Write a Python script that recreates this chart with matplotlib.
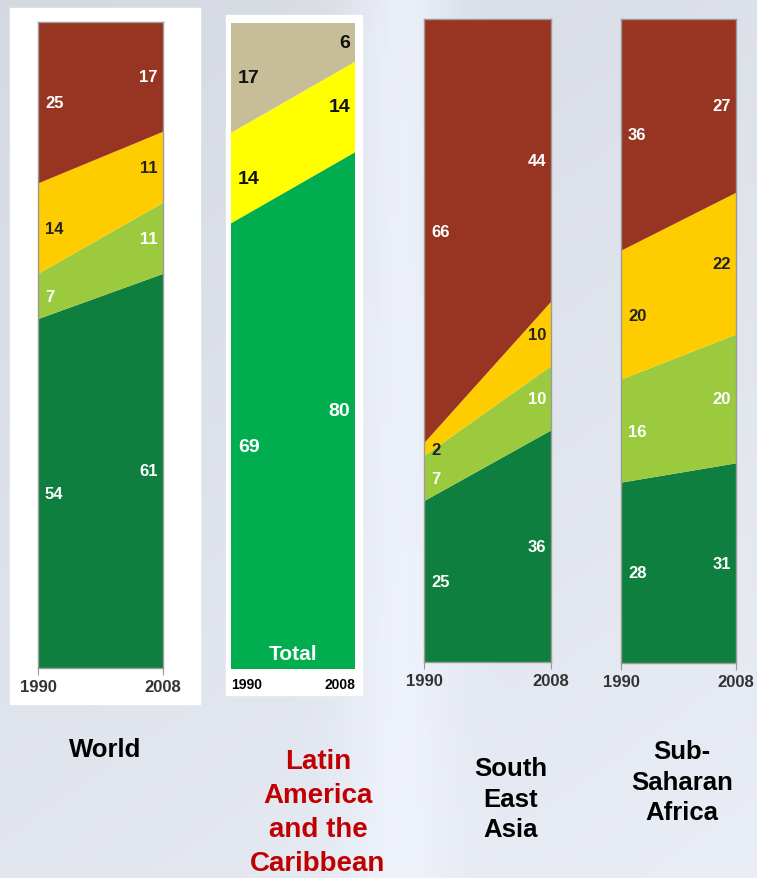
import matplotlib as mpl
import matplotlib.pyplot as plt
import numpy as np
from matplotlib.patches import Rectangle

W, H = 757, 879

years = [1990, 2008]

# world: dark green, light green, yellow, red
world_dark = [54, 61]
world_light = [7, 11]
world_yellow = [14, 11]
world_red = [25, 17]

# latin america and the caribbean: green, yellow, tan
latam_green = [69, 80]
latam_yellow = [14, 14]
latam_tan = [17, 6]

# south east asia
sea_dark = [25, 36]
sea_light = [7, 10]
sea_yellow = [2, 10]
sea_red = [66, 44]

# sub-saharan africa
ssa_dark = [28, 31]
ssa_light = [16, 20]
ssa_yellow = [20, 22]
ssa_red = [36, 27]

red = '#983522'
yellow = '#FFCC00'
light = '#9BCA3E'
dark = '#0E7F3F'

fig = plt.figure(figsize=(W / 100, H / 100), dpi=100)

# background
bg = fig.add_axes([0, 0, 1, 1])
xx, yy = np.meshgrid(np.linspace(0, 1, 200), np.linspace(0, 1, 200))
shade = 0.85 + 0.07 * np.exp(-((xx - 0.53) / 0.07) ** 2) * (1 - 0.5 * yy) + 0.05 * yy + 0.03 * xx
shade = np.clip(shade, 0, 0.95)
img = np.dstack([shade - 0.015, shade, shade + 0.035])
bg.imshow(np.clip(img, 0, 1), extent=[0, 1, 0, 1], aspect='auto', origin='upper')
bg.set_xlim(0, 1)
bg.set_ylim(0, 1)
bg.axis('off')


def px(x0, y0, x1, y1):
    return [x0 / W, 1 - y1 / H, (x1 - x0) / W, (y1 - y0) / H]


# white boxes behind first two panels
for x0, y0, x1, y1 in [(10, 9, 200, 705), (226, 16, 362, 696)]:
    bg.add_patch(Rectangle((x0 / W, 1 - y1 / H), (x1 - x0) / W, (y1 - y0) / H,
                           color='white', zorder=3))


def panel(rect, series, colors, txtcol, fs, fam, tick_style):
    ax = fig.add_axes(px(*rect))
    ax.stackplot(years, *series, colors=colors, linewidth=0)
    ax.set_xlim(years[0], years[1])
    ax.set_ylim(0, 100)
    ax.set_yticks([])
    ax.set_xticks(years)
    base = np.zeros(2)
    for s, tc in zip(series, txtcol):
        s = np.array(s)
        mid = base + s / 2
        for i in range(2):
            off = 7 if i == 0 else -5
            ax.annotate(str(s[i]), (years[i], mid[i]), xytext=(off, 0), textcoords='offset pixels',
                        ha='left' if i == 0 else 'right', va='center', color=tc,
                        fontsize=fs, fontweight='bold', family=fam)
        base = base + s
    if tick_style == 'latam':
        for sp in ax.spines.values():
            sp.set_visible(False)
        ax.tick_params(axis='x', length=0, pad=6)
        ax.set_xticklabels([str(y) for y in years], fontsize=10, fontweight='bold',
                           family=['Liberation Sans', 'DejaVu Sans'])
        lbls = ax.get_xticklabels()
        lbls[0].set_ha('left')
        lbls[1].set_ha('right')
    else:
        for sp in ax.spines.values():
            sp.set_color('#9a9a9a')
            sp.set_linewidth(1.0)
        ax.tick_params(axis='x', length=5, color='#9a9a9a', pad=3, labelcolor='#333333')
        ax.set_xticklabels([str(y) for y in years], fontsize=12, fontweight='bold',
                           family=['Liberation Sans', 'DejaVu Sans'])
    return ax


sans = ['Liberation Sans', 'DejaVu Sans']

panel((38, 23, 163, 669), [world_dark, world_light, world_yellow, world_red],
      [dark, light, yellow, red], ['white', 'white', '#222222', 'white'], 12, sans, 'std')

ax2 = panel((231, 24, 355, 670), [latam_green, latam_yellow, latam_tan],
            ['#00AD4F', '#FFFF00', '#C7BD98'], ['white', '#111111', '#111111'], 14, sans, 'latam')
ax2.text(0.5, 0.01, 'Total', transform=ax2.transAxes, ha='center', va='bottom',
         color='white', fontsize=15, fontweight='bold', family=sans)

panel((424, 20, 551, 663), [sea_dark, sea_light, sea_yellow, sea_red],
      [dark, light, yellow, red], ['white', 'white', '#222222', 'white'], 12, sans, 'std')

panel((621, 20, 736, 664), [ssa_dark, ssa_light, ssa_yellow, ssa_red],
      [dark, light, yellow, red], ['white', 'white', '#222222', 'white'], 12, sans, 'std')

titles = ['World', 'Latin\nAmerica\nand the\nCaribbean', 'South\nEast\nAsia', 'Sub-\nSaharan\nAfrica']
title_x = [105, 318, 511, 682]
title_y = [738, 749, 757, 740]
title_col = ['black', '#C00000', 'black', 'black']
title_fs = [18.5, 20, 18.5, 18.5]
title_ls = [1.3, 1.4, 1.35, 1.35]
for t, x, y, c, f, ls in zip(titles, title_x, title_y, title_col, title_fs, title_ls):
    fig.text(x / W, 1 - y / H, t, ha='center', va='top', color=c, fontsize=f,
             fontweight='bold', family=sans, linespacing=ls)

fig.savefig('out.png', dpi=100)
